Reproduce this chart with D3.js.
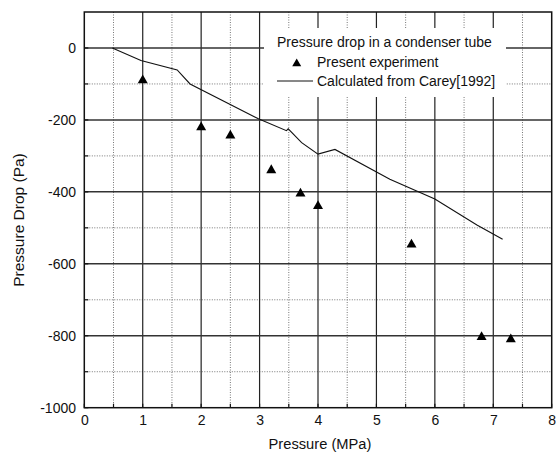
<!DOCTYPE html>
<html lang="en">
<head>
  <meta charset="UTF-8">
  <title>Pressure drop in a condenser tube</title>
  <script src="https://d3js.org/d3.v7.min.js"></script>
  <style>
    body { margin: 0; background: #fff; }
    svg { display: block; font-family: "Liberation Sans", Arial, sans-serif; }
  </style>
</head>
<body>
  <div id="chart"></div>
  <script>
    // data
    const expPressure = [1.0, 2.0, 2.5, 3.2, 3.7, 4.0, 5.6, 6.8, 7.3];
    const expDrop = [-86, -217, -240, -336, -401, -436, -543, -800, -806];

    const calcPressure = [0.48, 0.97, 1.59, 1.81, 2.98, 3.46, 3.49, 3.72, 4.0, 4.29, 5.23, 6.0, 6.72, 7.16];
    const calcDrop = [0, -35, -61, -100, -197, -230, -225, -263, -295, -282, -365, -420, -492, -532];

    const xTicks = [0, 1, 2, 3, 4, 5, 6, 7, 8];
    const yTicks = [0, -200, -400, -600, -800, -1000];
    const xMinor = [0.5, 1.5, 2.5, 3.5, 4.5, 5.5, 6.5, 7.5];
    const yMinor = [-100, -300, -500, -700, -900];

    const legendTitle = "Pressure drop in a condenser tube";
    const legendLabels = ["Present experiment", "Calculated from Carey[1992]"];

    const width = 557, height = 456;
    const margin = { top: 12, right: 5.3, bottom: 48.3, left: 84.3 };

    const svg = d3.select("#chart").append("svg")
      .attr("width", width)
      .attr("height", height);

    const x = d3.scaleLinear().domain([0, 8]).range([margin.left, width - margin.right]);
    const y = d3.scaleLinear().domain([-1000, 100]).range([height - margin.bottom, margin.top]);

    // grid
    const grid = svg.append("g");
    grid.selectAll(".vminor").data(xMinor).enter().append("line")
      .attr("x1", d => x(d)).attr("x2", d => x(d))
      .attr("y1", y(100)).attr("y2", y(-1000))
      .attr("stroke", "#777").attr("stroke-width", 1).attr("stroke-dasharray", "1,1.5");
    grid.selectAll(".hminor").data(yMinor).enter().append("line")
      .attr("x1", x(0)).attr("x2", x(8))
      .attr("y1", d => y(d)).attr("y2", d => y(d))
      .attr("stroke", "#777").attr("stroke-width", 1).attr("stroke-dasharray", "1,1.5");
    grid.selectAll(".vmajor").data(xTicks.slice(1, -1)).enter().append("line")
      .attr("x1", d => x(d)).attr("x2", d => x(d))
      .attr("y1", y(100)).attr("y2", y(-1000))
      .attr("stroke", "#222").attr("stroke-width", 1.2);
    grid.selectAll(".hmajor").data(yTicks.slice(0, -1)).enter().append("line")
      .attr("x1", x(0)).attr("x2", x(8))
      .attr("y1", d => y(d)).attr("y2", d => y(d))
      .attr("stroke", "#333").attr("stroke-width", 1.5);

    // legend background
    svg.append("rect")
      .attr("x", 264).attr("y", 28)
      .attr("width", 242).attr("height", 69)
      .attr("fill", "#fff");

    // frame
    svg.append("rect")
      .attr("x", x(0)).attr("y", y(100))
      .attr("width", x(8) - x(0)).attr("height", y(-1000) - y(100))
      .attr("fill", "none").attr("stroke", "#111").attr("stroke-width", 1.5);

    // axes (labels only)
    const xAxis = svg.append("g")
      .attr("transform", `translate(0, ${y(-1000)})`)
      .call(d3.axisBottom(x).tickValues(xTicks).tickSize(0).tickPadding(7.4).tickFormat(d3.format("d")));
    const yAxis = svg.append("g")
      .attr("transform", `translate(${x(0)}, 0)`)
      .call(d3.axisLeft(y).tickValues(yTicks).tickSize(0).tickPadding(8.3).tickFormat(d => d3.format("d")(d).replace("−", "-")));
    [xAxis, yAxis].forEach(g => {
      g.select(".domain").remove();
      g.selectAll("text").attr("font-size", 14).attr("fill", "#111")
        .style("font-family", "\"Liberation Sans\", Arial, sans-serif");
    });

    // small inward ticks along bottom and left
    svg.append("g").selectAll("line").data(xTicks.concat(xMinor)).enter().append("line")
      .attr("x1", d => x(d)).attr("x2", d => x(d))
      .attr("y1", y(-1000)).attr("y2", y(-1000) - 4)
      .attr("stroke", "#111").attr("stroke-width", 1.2);
    svg.append("g").selectAll("line").data(yTicks.concat(yMinor)).enter().append("line")
      .attr("x1", x(0)).attr("x2", x(0) + 4)
      .attr("y1", d => y(d)).attr("y2", d => y(d))
      .attr("stroke", "#111").attr("stroke-width", 1.2);

    // calculated line
    const line = d3.line()
      .x((d, i) => x(calcPressure[i]))
      .y(d => y(d));
    svg.append("path")
      .attr("d", line(calcDrop))
      .attr("fill", "none")
      .attr("stroke", "#111")
      .attr("stroke-width", 1.1);

    // experiment triangles
    const tri = "M0,-4.5L5,4.3L-5,4.3Z";
    svg.append("g").selectAll("path").data(expDrop).enter().append("path")
      .attr("transform", (d, i) => `translate(${x(expPressure[i])}, ${y(d)})`)
      .attr("d", tri)
      .attr("fill", "#000");

    // legend
    const legend = svg.append("g").attr("font-size", 14).attr("fill", "#111");
    legend.append("text").attr("x", 277).attr("y", 47.3).text(legendTitle);
    legend.append("path").attr("transform", "translate(296.7, 62.5)").attr("d", "M0,-4L4.5,3.8L-4.5,3.8Z").attr("fill", "#000");
    legend.append("text").attr("x", 317).attr("y", 66.5).text(legendLabels[0]);
    legend.append("line").attr("x1", 277).attr("x2", 313).attr("y1", 81).attr("y2", 81)
      .attr("stroke", "#111").attr("stroke-width", 1);
    legend.append("text").attr("x", 317).attr("y", 85.5).text(legendLabels[1]);

    // axis titles
    svg.append("text")
      .attr("x", 320).attr("y", 449)
      .attr("text-anchor", "middle")
      .attr("font-size", 14.7).attr("fill", "#111")
      .text("Pressure (MPa)");
    svg.append("text")
      .attr("transform", "translate(24, 220) rotate(-90)")
      .attr("text-anchor", "middle")
      .attr("font-size", 15.5).attr("fill", "#111")
      .text("Pressure Drop (Pa)");
  </script>
</body>
</html>
